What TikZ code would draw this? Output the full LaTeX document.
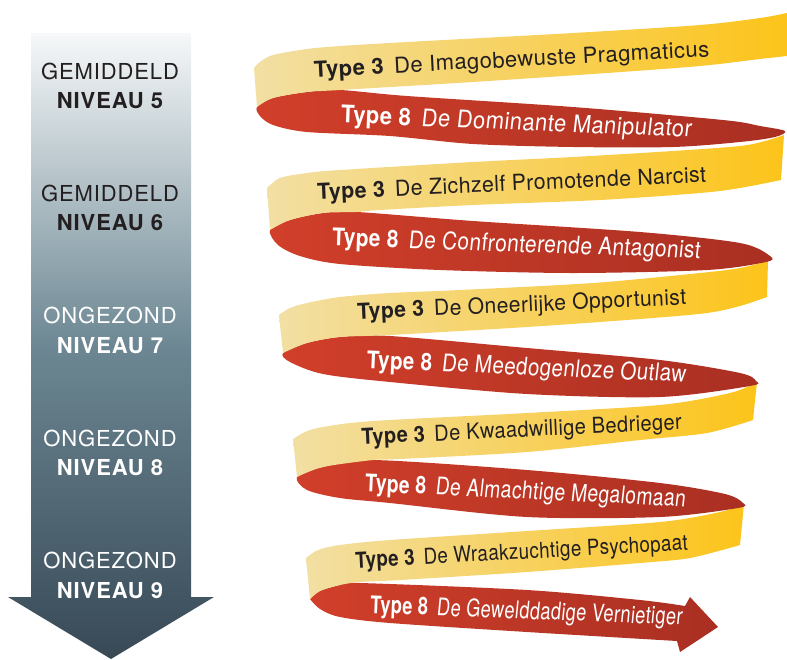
\documentclass[tikz,border=0pt]{standalone}
\usepackage{fontspec}
\setmainfont{TeX Gyre Heros}
\usepackage{tikz}

\definecolor{ylwL}{HTML}{F2DFA3}
\definecolor{ylwR}{HTML}{FCC41A}
\definecolor{redL}{HTML}{D13F2A}
\definecolor{redR}{HTML}{A92F22}
\definecolor{arwT}{HTML}{F6F8F9}
\definecolor{arwM}{HTML}{6C8793}
\definecolor{arwB}{HTML}{384956}
\definecolor{txtdark}{HTML}{231F20}

\begin{document}
\begin{tikzpicture}[x=1pt,y=1pt,
    ylwband/.style={left color=ylwL,right color=ylwR},
    redband/.style={left color=redL,right color=redR},
    ylwtext/.style={text=txtdark,anchor=base,font=\fontsize{22}{26}\selectfont\addfontfeature{LetterSpace=2}},
    redtext/.style={text=white,anchor=base,font=\fontsize{22}{26}\selectfont\addfontfeature{LetterSpace=2}},
    lvltext/.style={anchor=base,font=\fontsize{22}{26}\selectfont\addfontfeature{LetterSpace=4}},
    lvlbold/.style={lvltext,font=\fontsize{22}{26}\selectfont\bfseries\addfontfeature{LetterSpace=4}}]
                \tikzstyle{every node}+=[inner sep=0pt]
                \useasboundingbox (0,0) rectangle (787,-659);
                % level arrow
                \shade [top color=arwT,bottom color=arwB,middle color=arwM] (31,-33) -- (191,-33) -- (191,-597) -- (214,-597) -- (111,-659) -- (8,-597) -- (31,-597) -- cycle;
                \node [lvltext,text=txtdark] (g5) at (110,-79) {GEMIDDELD};
                \node [lvlbold,text=txtdark] (n5) at (110,-108) {NIVEAU 5};
                \node [lvltext,text=txtdark] (g6) at (110,-201) {GEMIDDELD};
                \node [lvlbold,text=txtdark] (n6) at (110,-230) {NIVEAU 6};
                \node [lvltext,text=white] (o7) at (110,-323) {ONGEZOND};
                \node [lvlbold,text=white] (n7) at (110,-353) {NIVEAU 7};
                \node [lvltext,text=white] (o8) at (110,-446) {ONGEZOND};
                \node [lvlbold,text=white] (n8) at (110,-475) {NIVEAU 8};
                \node [lvltext,text=white] (o9) at (110,-568) {ONGEZOND};
                \node [lvlbold,text=white] (n9) at (110,-598) {NIVEAU 9};
                % ribbon, drawn from the bottom up
                \shade [redband] plot[smooth] coordinates {(310,-599) (320,-591) (340,-585) (360,-583) (527,-590) (640,-600) (685,-606)} -- (690,-597) -- (718,-627) -- (680,-652) -- plot[smooth] coordinates {(677,-641) (527,-632) (390,-623) (340,-617) (320,-609) (310,-599)} -- cycle;
                \node [redtext,rotate=-2.2,xscale=0.83,yscale=1.1] (r5) at (526,-619) {\textbf{Type 8}\hspace{10pt}{\addfontfeature{FakeSlant=0.08}De Gewelddadige Vernietiger}};
                \shade [ylwband] plot[smooth] coordinates {(306,-558) (318,-550) (340,-545) (390,-540) (527,-531) (660,-522) (720,-512) (744,-504)} -- plot[smooth] coordinates {(740,-545) (690,-558) (640,-563) (527,-572) (400,-580) (360,-582) (340,-585) (320,-591) (310,-599)} -- cycle;
                \node [ylwtext,rotate=3.1,xscale=0.853] (y5) at (522,-559) {\textbf{Type 3}\hspace{10pt}De Wraakzuchtige Psychopaat};
                \shade [redband] plot[smooth cycle] coordinates {(297,-477) (323,-467) (373,-460) (527,-470) (660,-483) (725,-494) (743,-503) (738,-508) (660,-517) (527,-517) (390,-503) (340,-498) (307,-490)};
                \node [redtext,rotate=-2.7,xscale=0.877,yscale=1.1] (r4) at (525,-499) {\textbf{Type 8}\hspace{10pt}{\addfontfeature{FakeSlant=0.08}De Almachtige Megalomaan}};
                \shade [ylwband] plot[smooth] coordinates {(293,-439) (305,-432) (323,-427) (373,-421) (527,-413) (660,-405) (730,-393) (757,-382)} -- plot[smooth] coordinates {(753,-420) (707,-433) (640,-440) (527,-452) (400,-459) (373,-460) (323,-467) (297,-477)} -- cycle;
                \node [ylwtext,rotate=2.7,xscale=0.91] (y4) at (522,-437) {\textbf{Type 3}\hspace{10pt}De Kwaadwillige Bedrieger};
                \shade [redband] plot[smooth cycle] coordinates {(283,-353) (307,-343) (340,-337) (390,-336) (527,-348) (660,-360) (740,-373) (756,-381) (750,-386) (660,-397) (527,-394) (390,-382) (323,-374) (290,-362)};
                \node [redtext,rotate=-2.5,xscale=0.935,yscale=1.1] (r3) at (526,-375) {\textbf{Type 8}\hspace{10pt}{\addfontfeature{FakeSlant=0.08}De Meedogenloze Outlaw}};
                \shade [ylwband] plot[smooth] coordinates {(279,-315) (290,-308) (307,-303) (340,-297) (390,-293) (460,-290) (593,-283) (700,-273) (740,-268) (768,-261)} -- plot[smooth] coordinates {(767,-297) (740,-306) (707,-313) (640,-319) (527,-327) (390,-335) (340,-337) (307,-343) (283,-353)} -- cycle;
                \node [ylwtext,rotate=2.6,xscale=0.96] (y3) at (522,-312) {\textbf{Type 3}\hspace{10pt}De Oneerlijke Opportunist};
                \shade [redband] plot[smooth cycle] coordinates {(270,-230) (290,-220) (323,-213) (357,-212) (473,-221) (640,-232) (740,-243) (770,-256) (766,-262) (707,-270) (573,-273) (440,-270) (340,-264) (300,-256) (278,-245)};
                \node [redtext,rotate=-2.0,xscale=0.95,yscale=1.1] (r2) at (516,-252) {\textbf{Type 8}\hspace{10pt}{\addfontfeature{FakeSlant=0.08}De Confronterende Antagonist}};
                \shade [ylwband] plot[smooth] coordinates {(267,-188) (280,-178) (307,-173) (340,-170) (473,-162) (573,-157) (673,-151) (740,-146) (765,-141) (784,-135)} -- plot[smooth] coordinates {(781,-180) (740,-188) (700,-193) (600,-200) (473,-205) (380,-210) (357,-212) (323,-213) (290,-220) (270,-230)} -- cycle;
                \node [ylwtext,rotate=2.6,xscale=0.97] (y2) at (512,-191) {\textbf{Type 3}\hspace{10pt}De Zichzelf Promotende Narcist};
                \shade [redband] plot[smooth cycle] coordinates {(257,-107) (273,-98) (307,-92) (340,-90) (407,-96) (573,-107) (723,-120) (760,-126) (785,-131) (775,-137) (740,-142) (673,-147) (573,-147) (473,-144) (390,-136) (307,-132) (273,-125) (260,-116)};
                \node [redtext,rotate=-2.3,yscale=1.1] (r1) at (516,-130) {\textbf{Type 8}\hspace{10pt}{\addfontfeature{FakeSlant=0.08}De Dominante Manipulator}};
                \shade [ylwband] plot[smooth] coordinates {(254,-68) (260,-62) (273,-55) (307,-49) (340,-46) (407,-42) (573,-33) (700,-25) (760,-18) (787,-13)} -- plot[smooth] coordinates {(787,-56) (760,-59) (700,-66) (607,-73) (473,-82) (340,-90) (307,-92) (273,-98) (257,-107)} -- cycle;
                \node [ylwtext,rotate=3.0] (y1) at (512,-67) {\textbf{Type 3}\hspace{10pt}De Imagobewuste Pragmaticus};
\end{tikzpicture}
\end{document}
